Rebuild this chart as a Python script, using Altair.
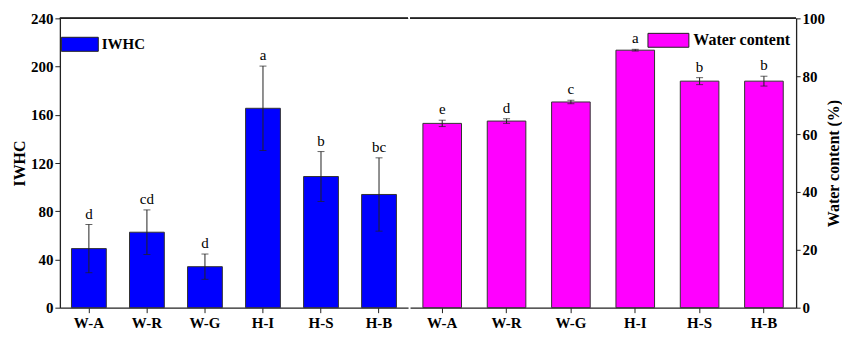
import altair as alt
import pandas as pd

SERIF = "Liberation Serif"

categories = ["W-A", "W-R", "W-G", "H-I", "H-S", "H-B"]
iwhc = [49.0, 62.6, 34.0, 165.4, 108.8, 93.9]
iwhc_err = [20.0, 18.5, 10.5, 35.0, 20.7, 30.4]
iwhc_letters = ["d", "cd", "d", "a", "b", "bc"]
water = [63.7, 64.5, 71.1, 89.0, 78.3, 78.3]
water_err = [1.1, 0.8, 0.6, 0.3, 1.2, 1.7]
water_letters = ["e", "d", "c", "a", "b", "b"]


def make_df(vals, errs, letters, series):
    return pd.DataFrame({
        "cat": categories,
        "value": vals,
        "lo": [v - e for v, e in zip(vals, errs)],
        "hi": [v + e for v, e in zip(vals, errs)],
        "letter": letters,
        "series": [series] * len(categories),
    })


AX = "#222222"
H = 290


def panel(df, ymax, color, series, yaxis, width, legend):
    x = alt.X("cat:N", sort=categories,
              scale=alt.Scale(paddingInner=0.4, paddingOuter=0.2),
              axis=alt.Axis(title=None, labelFont=SERIF, labelFontWeight="bold",
                            labelFontSize=15, labelAngle=0, labelColor="black",
                            tickSize=5, labelPadding=3, domainColor=AX,
                            tickColor=AX, domainWidth=1.3))
    y = alt.Y("value:Q", scale=alt.Scale(domain=[0, ymax], nice=False), axis=yaxis)
    base = alt.Chart(df)
    bars = base.mark_bar(stroke="#333333", strokeWidth=1, opacity=1).encode(
        x=x, y=y,
        color=alt.Color("series:N", scale=alt.Scale(domain=[series], range=[color]),
                        legend=legend))
    rules = base.mark_rule(color=AX, strokeWidth=1).encode(
        x=x, y=alt.Y("lo:Q"), y2="hi:Q")
    cap_hi = base.mark_tick(color=AX, thickness=1, size=7).encode(x=x, y="hi:Q")
    cap_lo = base.mark_tick(color=AX, thickness=1, size=7).encode(x=x, y="lo:Q")
    text = base.mark_text(font=SERIF, fontSize=15, dy=-6, baseline="alphabetic",
                          color="black").encode(x=x, y="hi:Q", text="letter:N")
    top = base.mark_rule(color=AX, strokeWidth=1.3).encode(
        x=alt.value(0), x2=alt.value(width), y=alt.value(0))
    return alt.layer(bars, rules, cap_hi, cap_lo, text, top).properties(
        width=width, height=H)


left_axis = alt.Axis(title="IWHC", orient="left", values=list(range(0, 241, 20)),
                     labelExpr="datum.value % 40 == 0 ? datum.label : ''",
                     grid=False, tickSize=5, labelPadding=2, titlePadding=3,
                     titleFont=SERIF, titleFontWeight="bold", titleFontSize=16,
                     titleColor="black", labelFont=SERIF, labelFontWeight="bold",
                     labelFontSize=15, labelColor="black", domainColor=AX,
                     tickColor=AX, domainWidth=1.3)
right_axis = alt.Axis(title="Water content (%)", orient="right",
                      values=list(range(0, 101, 10)),
                      labelExpr="datum.value % 20 == 0 ? datum.label : ''",
                      grid=False, tickSize=4, labelPadding=2, titlePadding=1,
                      titleAngle=270, titleBaseline="top",
                      titleFont=SERIF, titleFontWeight="bold", titleFontSize=16,
                      titleColor="black", labelFont=SERIF, labelFontWeight="bold",
                      labelFontSize=15, labelColor="black", domainColor=AX,
                      tickColor=AX, domainWidth=1.3)

left_legend = alt.Legend(title=None, orient="none", legendX=1, legendY=7,
                         symbolType="M-1,-0.38H1V0.38H-1Z", symbolSize=1369,
                         symbolStrokeColor=AX, symbolStrokeWidth=1, symbolOpacity=1,
                         labelFont=SERIF, labelFontWeight="bold", labelFontSize=15,
                         labelColor="black", padding=0, labelOffset=3)
right_legend = alt.Legend(title=None, orient="none", legendX=238, legendY=1,
                          symbolType="M-1,-0.34H1V0.34H-1Z", symbolSize=1681,
                          symbolStrokeColor=AX, symbolStrokeWidth=1, symbolOpacity=1,
                          labelFont=SERIF, labelFontWeight="bold", labelFontSize=16,
                          labelColor="black", padding=0, labelOffset=4)

left = panel(make_df(iwhc, iwhc_err, iwhc_letters, "IWHC"), 240, "#0000FF", "IWHC",
             left_axis, 349, left_legend)
right = panel(make_df(water, water_err, water_letters, "Water content"), 100, "#FF00FF",
              "Water content", right_axis, 387, right_legend)

chart = alt.hconcat(left, right, spacing=0).resolve_scale(
    color="independent", y="independent", x="independent"
).properties(
    padding={"left": 3, "top": 3, "right": 0, "bottom": 0},
    background="white"
).configure_view(strokeWidth=0, stroke="transparent")

chart.save("out.html", embed_options={"renderer": "svg", "actions": False})
